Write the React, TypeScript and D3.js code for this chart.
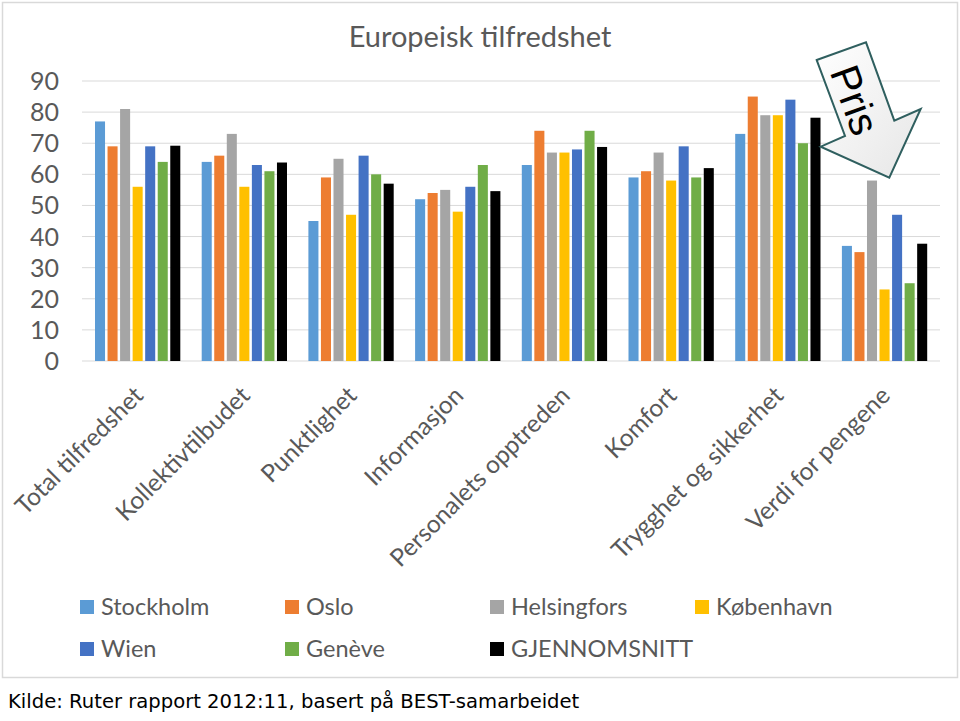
import React from "react";
import * as d3 from "d3";

const categories = [
  "Total tilfredshet",
  "Kollektivtilbudet",
  "Punktlighet",
  "Informasjon",
  "Personalets opptreden",
  "Komfort",
  "Trygghet og sikkerhet",
  "Verdi for pengene",
];
const seriesNames = ["Stockholm", "Oslo", "Helsingfors", "København", "Wien", "Genève", "GJENNOMSNITT"];
const seriesColors = ["#5b9bd5", "#ed7d31", "#a5a5a5", "#ffc000", "#4472c4", "#70ad47", "#000000"];
const stockholm = [77, 64, 45, 52, 63, 59, 73, 37];
const oslo = [69, 66, 59, 54, 74, 61, 85, 35];
const helsingfors = [81, 73, 65, 55, 67, 67, 79, 58];
const kobenhavn = [56, 56, 47, 48, 67, 58, 79, 23];
const wien = [69, 63, 66, 56, 68, 69, 84, 47];
const geneve = [64, 61, 60, 63, 74, 59, 70, 25];
const gjennomsnitt = [69.2, 63.8, 57, 54.6, 68.8, 62, 78.2, 37.7];
const seriesValues = [stockholm, oslo, helsingfors, kobenhavn, wien, geneve, gjennomsnitt];
const yTicks = [0, 10, 20, 30, 40, 50, 60, 70, 80, 90];

const W = 960;
const H = 721;
const FONT = "Lato, 'Open Sans', sans-serif";
const GRAY = "#595959";

export default function App() {
  const y = d3.scaleLinear().domain([0, 90]).range([361, 81]);
  const x0 = d3.scaleBand<string>().domain(categories).range([84.3, 937.9]).padding(0);
  const x1 = d3
    .scaleBand<string>()
    .domain(seriesNames)
    .range([10.7, x0.bandwidth() - 10.7])
    .paddingInner(0.2)
    .paddingOuter(0);

  const legendRows = [
    { y: 607, items: [0, 1, 2, 3] },
    { y: 649, items: [4, 5, 6] },
  ];
  const legendX = [80, 285, 490, 695];

  const arrowPts: [number, number][] = [
    [816.7, 60],
    [866, 42.3],
    [894.3, 120.7],
    [920.7, 109],
    [889.3, 177.7],
    [820.7, 146.7],
    [845, 136],
  ];
  const arrowPath = d3.line()(arrowPts) + "Z";

  return (
    <svg
      width={W}
      height={H}
      style={{ position: "absolute", left: 0, top: 0, background: "#fff" }}
      fontFamily={FONT}
    >
      <defs>
        <linearGradient id="arrowGrad" x1="0" y1="0" x2="1" y2="1">
          <stop offset="0" stopColor="#ffffff" />
          <stop offset="1" stopColor="#e6e6e6" />
        </linearGradient>
      </defs>
      <rect x={2.5} y={2.5} width={955} height={675} fill="#fff" stroke="#d9d9d9" strokeWidth={1.5} />
      <text x={480} y={47} textAnchor="middle" fontSize={29} fill={GRAY}>
        Europeisk tilfredshet
      </text>
      {yTicks.map((t) => (
        <g key={t}>
          <line x1={82} x2={940} y1={y(t)} y2={y(t)} stroke="#d9d9d9" strokeWidth={1} />
          <text x={59} y={y(t)} dy="0.36em" textAnchor="end" fontSize={25} fill={GRAY}>
            {t}
          </text>
        </g>
      ))}
      {categories.map((c, ci) => (
        <g key={c} transform={`translate(${x0(c)},0)`}>
          {seriesNames.map((s, si) => (
            <rect
              key={s}
              x={x1(s)}
              y={y(seriesValues[si][ci])}
              width={x1.bandwidth()}
              height={y(0) - y(seriesValues[si][ci])}
              fill={seriesColors[si]}
            />
          ))}
        </g>
      ))}
      {categories.map((c) => {
        const cx = (x0(c) as number) + x0.bandwidth() / 2;
        return (
          <text
            key={c}
            transform={`translate(${cx + 1},${391}) rotate(-45)`}
            textAnchor="end"
            dy="0.35em"
            fontSize={24.5}
            fill={GRAY}
          >
            {c}
          </text>
        );
      })}
      {legendRows.map((row) =>
        row.items.map((si, k) => (
          <g key={si} transform={`translate(${legendX[k]},${row.y})`}>
            <rect x={0} y={-7} width={14} height={14} fill={seriesColors[si]} />
            <text x={21} y={0} dy="0.35em" fontSize={23.5} fill={GRAY}>
              {seriesNames[si]}
            </text>
          </g>
        ))
      )}
      <path d={arrowPath} fill="url(#arrowGrad)" stroke="#2f5f5f" strokeWidth={2} strokeLinejoin="miter" />
      <text
        transform="translate(855,100) rotate(70)"
        textAnchor="middle"
        dy="0.35em"
        fontSize={41}
        fontFamily="'Liberation Sans', Arial, sans-serif"
        fill="#000"
      >
        Pris
      </text>
      <text x={8} y={708} fontSize={19.6} fontFamily="'DejaVu Sans', Verdana, sans-serif" fill="#000">
        Kilde: Ruter rapport 2012:11, basert på BEST-samarbeidet
      </text>
    </svg>
  );
}
